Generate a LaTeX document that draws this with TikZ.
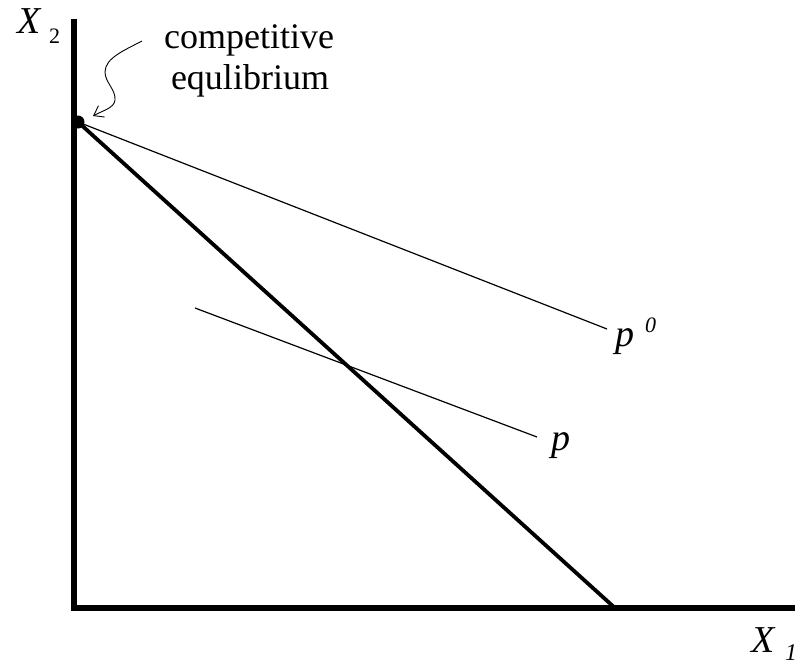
\documentclass[tikz,border=0pt]{standalone}
\usepackage{fontspec}
\setmainfont{Liberation Serif}
\usetikzlibrary{arrows.meta}
\begin{document}
\begin{tikzpicture}[x=1pt,y=-1pt,
  axis/.style={line width=5.5pt},
  budget/.style={line width=3.8pt},
  price/.style={line width=1.2pt},
  lbl/.style={font=\fontsize{36}{38}\selectfont, inner sep=0pt},
  axlbl/.style={font=\fontsize{38}{40}\selectfont\itshape, inner sep=0pt},
  sub/.style={font=\fontsize{22}{24}\selectfont, inner sep=0pt}]
\useasboundingbox (0,0) rectangle (809,665);
\coordinate (O) at (74,608);
\coordinate (Ytop) at (74,19);
\coordinate (Xend) at (795,608);
\coordinate (E) at (78,122);
\coordinate (B) at (615,608);
\coordinate (P0end) at (607,329);
\coordinate (Pa) at (195,308);
\coordinate (Pb) at (537,437);
\draw[axis] (Ytop) -- (O.center) -- (Xend);
\draw[budget] (E) -- (B);
\draw[price] (E) -- (P0end);
\draw[price] (Pa) -- (Pb);
\fill (E) circle (6.5);
\node[lbl, anchor=base] (t1) at (249,48) {competitive};
\node[lbl, anchor=base] (t2) at (250,89) {equlibrium};
\coordinate (sq) at (142,41);
\coordinate (sqend) at (93,116);
\draw[line width=0.9pt, -{Straight Barb[length=9pt,width=13pt]}] (sq) .. controls (125,50) and (105,58) .. (105,72) .. controls (105,82) and (116,90) .. (115,100) .. controls (114,108) and (104,110) .. (sqend);
\node[axlbl, anchor=base west] (p0) at (615,346) {p};
\node[sub, anchor=base west, font=\fontsize{22}{24}\selectfont\itshape] (p0s) at (645,332) {0};
\node[axlbl, anchor=base west] (p) at (551,450) {p};
\node[axlbl, anchor=base west] (x2) at (17,33) {X};
\node[sub, anchor=base west] (x2s) at (49,43) {2};
\node[axlbl, anchor=base west] (x1) at (751,652) {X};
\node[sub, anchor=base west, font=\fontsize{24}{26}\selectfont\itshape] (x1s) at (785,660) {1};
\end{tikzpicture}
\end{document}
